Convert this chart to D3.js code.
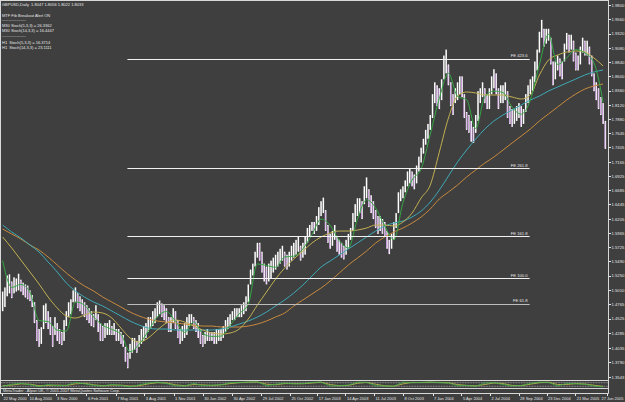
<!DOCTYPE html>
<html>
<head>
<script src="https://d3js.org/d3.v7.min.js"></script>
<style>
  body { margin: 0; background: #3f3f3f; }
  svg { display: block; font-family: "Liberation Sans", Arial, sans-serif; }
  .axis text { fill: #e6e6e6; }
  .axis line { stroke: #e6e6e6; shape-rendering: crispEdges; }
  .info { fill: #e6e6e6; font-size: 4px; }
  .fib text { fill: #e6e6e6; font-size: 4.2px; }
</style>
</head>
<body>
<script>
var w = 625, h = 402;
var plotRight = 608.5, plotBottom = 380.5;

// weekly bars, first week starts 22 May 2000
var firstWeek = new Date(2000, 4, 22);
var barLow = [
 1.4650,1.4720,1.4900,1.4950,1.4870,1.4950,1.4980,1.5000,1.4980,1.4920,
 1.4880,1.4850,1.4820,1.4720,1.4450,1.4150,1.4050,1.4100,1.4350,1.4450,
 1.4350,1.4250,1.4050,1.4250,1.4150,1.4100,1.4080,1.4150,1.4400,1.4550,
 1.4600,1.4800,1.4800,1.4700,1.4650,1.4600,1.4550,1.4500,1.4450,1.4400,
 1.4380,1.4500,1.4300,1.4150,1.4150,1.4200,1.4250,1.4250,1.4250,1.4250,
 1.4150,1.4150,1.4100,1.4050,1.3800,1.3690,1.3850,1.3950,1.4000,1.3950,
 1.4050,1.4100,1.4150,1.4200,1.4300,1.4350,1.4400,1.4450,1.4550,1.4600,
 1.4550,1.4500,1.4450,1.4300,1.4300,1.4450,1.4350,1.4200,1.4100,1.4150,
 1.4200,1.4250,1.4400,1.4450,1.4350,1.4300,1.4200,1.4100,1.4050,1.4100,
 1.4150,1.4150,1.4150,1.4100,1.4100,1.4150,1.4150,1.4200,1.4300,1.4350,
 1.4400,1.4500,1.4500,1.4550,1.4550,1.4550,1.4600,1.4650,1.4800,1.5100,
 1.5250,1.5400,1.5550,1.5500,1.5300,1.5150,1.5100,1.5150,1.5200,1.5300,
 1.5350,1.5400,1.5450,1.5500,1.5400,1.5350,1.5400,1.5500,1.5550,1.5600,
 1.5650,1.5500,1.5550,1.5600,1.5800,1.5900,1.6000,1.5950,1.6000,1.6100,
 1.6250,1.6300,1.6000,1.5800,1.5700,1.5750,1.5850,1.5650,1.5600,1.5550,
 1.5520,1.5600,1.5700,1.5850,1.6000,1.6150,1.6250,1.6300,1.6200,1.6450,
 1.6550,1.6400,1.6300,1.6200,1.6050,1.5950,1.6000,1.5950,1.5900,1.5700,
 1.5610,1.5700,1.5850,1.6050,1.6300,1.6500,1.6550,1.6650,1.6750,1.6800,
 1.6750,1.6700,1.6800,1.7000,1.7150,1.7300,1.7450,1.7550,1.7700,1.7900,
 1.8150,1.8100,1.8050,1.8200,1.8550,1.8650,1.8450,1.8100,1.7950,1.8150,
 1.8200,1.8300,1.8250,1.7900,1.7700,1.7650,1.7500,1.7480,1.7650,1.7850,
 1.8150,1.8250,1.8150,1.8050,1.8050,1.8300,1.8400,1.8300,1.8050,1.8150,
 1.8150,1.8200,1.7900,1.7800,1.7750,1.7800,1.7850,1.7900,1.7750,1.7800,
 1.8000,1.8150,1.8300,1.8350,1.8500,1.8700,1.9000,1.9250,1.9100,1.9150,
 1.9200,1.8800,1.8450,1.8550,1.8700,1.8600,1.8550,1.8850,1.9050,1.9000,
 1.9050,1.8850,1.8700,1.8700,1.8800,1.9000,1.8950,1.8950,1.8800,1.8600,
 1.8350,1.8200,1.8050,1.7950,1.7800,1.7380
];
var barHigh = [
 1.4980,1.5050,1.5250,1.5270,1.5150,1.5220,1.5200,1.5280,1.5180,1.5130,
 1.5100,1.5080,1.5000,1.4920,1.4800,1.4500,1.4350,1.4380,1.4750,1.4780,
 1.4650,1.4550,1.4400,1.4550,1.4450,1.4350,1.4300,1.4500,1.4650,1.4800,
 1.4850,1.5000,1.5050,1.4950,1.4900,1.4850,1.4800,1.4750,1.4700,1.4650,
 1.4600,1.4750,1.4600,1.4450,1.4400,1.4450,1.4450,1.4500,1.4400,1.4450,
 1.4350,1.4350,1.4300,1.4250,1.4050,1.3950,1.4100,1.4200,1.4200,1.4150,
 1.4250,1.4350,1.4400,1.4450,1.4550,1.4550,1.4650,1.4700,1.4800,1.4830,
 1.4780,1.4750,1.4700,1.4550,1.4550,1.4700,1.4650,1.4500,1.4350,1.4400,
 1.4450,1.4550,1.4600,1.4600,1.4550,1.4500,1.4450,1.4350,1.4250,1.4300,
 1.4350,1.4300,1.4300,1.4300,1.4350,1.4350,1.4350,1.4400,1.4500,1.4550,
 1.4600,1.4650,1.4700,1.4700,1.4700,1.4750,1.4800,1.4900,1.5100,1.5350,
 1.5450,1.5650,1.5800,1.5800,1.5650,1.5450,1.5400,1.5450,1.5500,1.5550,
 1.5600,1.5650,1.5700,1.5750,1.5650,1.5600,1.5650,1.5750,1.5800,1.5850,
 1.5900,1.5750,1.5800,1.5900,1.6050,1.6100,1.6150,1.6150,1.6250,1.6400,
 1.6500,1.6560,1.6350,1.6100,1.5950,1.6000,1.6100,1.5900,1.5850,1.5800,
 1.5750,1.5850,1.5950,1.6050,1.6300,1.6450,1.6550,1.6550,1.6500,1.6750,
 1.6900,1.6700,1.6600,1.6500,1.6350,1.6250,1.6250,1.6200,1.6150,1.6000,
 1.5850,1.5950,1.6150,1.6300,1.6650,1.6700,1.6750,1.6850,1.7000,1.7050,
 1.7000,1.6950,1.7100,1.7250,1.7400,1.7550,1.7700,1.7800,1.7950,1.8300,
 1.8500,1.8450,1.8400,1.8550,1.8950,1.9050,1.8800,1.8500,1.8300,1.8400,
 1.8500,1.8600,1.8600,1.8300,1.8000,1.7950,1.7850,1.7750,1.7950,1.8350,
 1.8400,1.8500,1.8400,1.8300,1.8400,1.8600,1.8720,1.8650,1.8400,1.8450,
 1.8450,1.8500,1.8350,1.8100,1.8050,1.8050,1.8100,1.8150,1.8100,1.8050,
 1.8300,1.8450,1.8550,1.8600,1.8850,1.9050,1.9350,1.9550,1.9400,1.9400,
 1.9400,1.9250,1.8850,1.8850,1.8950,1.8900,1.8850,1.9150,1.9330,1.9300,
 1.9300,1.9200,1.9000,1.8950,1.9100,1.9250,1.9200,1.9200,1.9100,1.8950,
 1.8650,1.8500,1.8400,1.8250,1.8150,1.7850
];

// moving averages, one value every 4 weeks
var maGreen = [
 1.5500,1.5050,1.5100,1.4973,1.4493,1.4476,1.4331,1.4316,1.4806,1.4750,
 1.4554,1.4413,1.4344,1.4263,1.3968,1.4094,1.4313,1.4556,1.4645,1.4481,
 1.4294,1.4469,1.4275,1.4225,1.4231,1.4413,1.4606,1.4769,1.5444,1.5419,
 1.5388,1.5563,1.5575,1.5700,1.5938,1.6200,1.6095,1.5838,1.5715,1.6200,
 1.6525,1.6388,1.6081,1.5851,1.6475,1.6856,1.7044,1.7625,1.8231,1.8650,
 1.8263,1.8206,1.7723,1.8256,1.8353,1.8325,1.8081,1.7963,1.8200,1.8800,
 1.9306,1.8800,1.8910,1.9050,1.8994,1.8825,1.8163
];
var maKhaki = [
 1.5898,1.5712,1.5511,1.5309,1.5107,1.4888,1.4703,1.4569,1.4535,1.4585,
 1.4636,1.4619,1.4535,1.4367,1.4199,1.4131,1.4199,1.4333,1.4451,1.4501,
 1.4468,1.4400,1.4333,1.4283,1.4266,1.4283,1.4350,1.4518,1.4754,1.4972,
 1.5191,1.5376,1.5527,1.5662,1.5797,1.5898,1.5965,1.5998,1.5998,1.6015,
 1.6049,1.6099,1.6099,1.6083,1.6150,1.6301,1.6554,1.6772,1.7327,1.7899,
 1.8269,1.8337,1.8320,1.8286,1.8286,1.8286,1.8252,1.8219,1.8286,1.8623,
 1.8875,1.8959,1.9009,1.9026,1.9009,1.8908,1.8774
];
var maTeal = [
 1.6099,1.5982,1.5881,1.5763,1.5645,1.5477,1.5309,1.5124,1.4989,1.4888,
 1.4804,1.4737,1.4653,1.4569,1.4485,1.4417,1.4367,1.4350,1.4350,1.4333,
 1.4333,1.4333,1.4333,1.4333,1.4350,1.4384,1.4434,1.4485,1.4552,1.4636,
 1.4737,1.4838,1.4956,1.5090,1.5242,1.5393,1.5494,1.5595,1.5696,1.5797,
 1.5898,1.5998,1.6083,1.6133,1.6167,1.6234,1.6335,1.6486,1.6688,1.6924,
 1.7159,1.7361,1.7546,1.7714,1.7849,1.7950,1.8034,1.8118,1.8202,1.8269,
 1.8353,1.8421,1.8488,1.8555,1.8623,1.8673,1.8707
];
var maOrange = [
 1.6032,1.5948,1.5864,1.5763,1.5679,1.5561,1.5427,1.5292,1.5174,1.5073,
 1.4989,1.4888,1.4804,1.4720,1.4636,1.4569,1.4518,1.4485,1.4468,1.4451,
 1.4434,1.4417,1.4400,1.4400,1.4384,1.4384,1.4384,1.4400,1.4434,1.4485,
 1.4552,1.4619,1.4737,1.4838,1.4939,1.5040,1.5157,1.5292,1.5427,1.5544,
 1.5662,1.5797,1.5898,1.5982,1.6049,1.6133,1.6234,1.6369,1.6537,1.6654,
 1.6772,1.6907,1.7025,1.7142,1.7243,1.7361,1.7479,1.7596,1.7714,1.7849,
 1.7967,1.8084,1.8202,1.8303,1.8387,1.8438,1.8471
];

// lower oscillator, one value every 4 weeks
var stochMain = [20,55,70,45,15,50,30,35,85,60,35,25,50,35,10,45,75,90,65,30,
 25,70,30,40,45,80,85,90,95,30,55,75,60,65,85,90,25,30,40,90,
 85,30,25,20,90,80,85,90,80,75,30,35,20,75,80,50,25,35,70,90,
 85,25,70,60,55,25,10];
var stochSignal = [30,40,60,55,30,35,40,35,60,70,45,30,40,40,25,30,60,80,75,45,
 30,50,45,35,45,65,80,88,92,55,45,65,65,62,75,88,50,30,35,70,
 85,55,28,22,60,85,82,88,85,78,50,35,28,50,75,65,35,30,55,80,
 88,50,50,65,58,38,18];

var priceTicks = [1.9800,1.9560,1.9320,1.9080,1.8840,1.8600,1.8360,1.8120,1.7880,
 1.7645,1.7405,1.7165,1.6925,1.6685,1.6445,1.6205,1.5965,1.5725,1.5490,1.5250,
 1.5010,1.4765,1.4525,1.4285,1.4035,1.3790,1.3543];
var dateTicks = ["2000-05-22","2000-08-10","2000-11-03","2001-02-06","2001-05-07",
 "2001-08-03","2001-11-01","2002-01-30","2002-04-30","2002-07-29","2002-10-25",
 "2003-01-17","2003-04-14","2003-07-11","2003-10-08","2004-01-07","2004-04-05",
 "2004-07-02","2004-09-28","2004-12-23","2005-03-21","2005-06-27"];

var fibNames = ["FE 61.8","FE 100.0","FE 161.8","FE 261.8","FE 423.6"];
var fibPrices = [1.4773,1.5208,1.5913,1.7055,1.8900];
var fibFrom = "2001-06-12", fibTo = "2004-11-01";

var infoLines = [
 "GBPUSD,Daily  1.8047 1.8056 1.8022 1.8033",
 "MTF Fib Breakout Alert ON",
 "------------------",
 "M30 Stoch(5,3,3) = 26.3362",
 "M30 Stoch(14,3,3) = 16.4447",
 "------------------",
 "H1  Stoch(5,3,3) = 16.3714",
 "H1  Stoch(14,3,3) = 23.1111"
];
var infoY = [5.5, 16.5, 21, 26.5, 32, 37, 43.5, 49];

var parseDate = d3.timeParse("%Y-%m-%d");

var xScale = d3.scaleTime()
    .domain([new Date(2000, 4, 22), new Date(2005, 5, 27)])
    .range([2, 607]);
var yScale = d3.scaleLinear()
    .domain([1.3543, 1.9800])
    .range([377, 5]);
var oscScale = d3.scaleLinear().domain([0, 100]).range([387.5, 381.5]);

var svg = d3.select("body").append("svg")
    .attr("width", w).attr("height", h);

svg.append("rect").attr("width", w).attr("height", h).attr("fill", "#3f3f3f");

svg.append("clipPath").attr("id", "plotclip")
  .append("rect").attr("x", 1).attr("y", 1).attr("width", plotRight - 1).attr("height", plotBottom - 1);

var plot = svg.append("g").attr("clip-path", "url(#plotclip)");

// bars
var bars = barLow.map(function(lo, i) {
    var mid = (lo + barHigh[i]) / 2;
    var prevMid = i > 0 ? (barLow[i-1] + barHigh[i-1]) / 2 : mid;
    return { date: d3.timeDay.offset(firstWeek, 7 * i + 2), low: lo, high: barHigh[i], down: mid < prevMid };
});
var barG = plot.selectAll("g.bar").data(bars).enter().append("g").attr("class", "bar");
barG.append("rect")
    .attr("x", function(d) { return xScale(d.date) - 0.75; })
    .attr("width", 1.5)
    .attr("y", function(d) { return yScale(d.high); })
    .attr("height", function(d) { return yScale(d.low) - yScale(d.high); })
    .attr("fill", "#ffffff");
// down weeks get a violet stripe like the bearish daily bars
barG.filter(function(d) { return d.down; }).append("rect")
    .attr("x", function(d) { return xScale(d.date) - 0.75; })
    .attr("width", 0.7)
    .attr("y", function(d) { return yScale(d.high) + 1; })
    .attr("height", function(d) { return Math.max(0, yScale(d.low) - yScale(d.high) - 2); })
    .attr("fill", "#c487dd");

// moving averages
function maPoints(vals) {
    return vals.map(function(v, k) { return { date: d3.timeDay.offset(firstWeek, 28 * k + 2), v: v }; });
}
var maLine = d3.line()
    .x(function(d) { return xScale(d.date); })
    .y(function(d) { return yScale(d.v); })
    .curve(d3.curveMonotoneX);

[[maOrange, "#c98a3e"], [maTeal, "#3fa9b6"], [maKhaki, "#c2b052"], [maGreen, "#35a845"]].forEach(function(m) {
    plot.append("path")
        .attr("d", maLine(maPoints(m[0])))
        .attr("fill", "none")
        .attr("stroke", m[1])
        .attr("stroke-width", 1);
});

// fibo expansion levels
var fx1 = xScale(parseDate(fibFrom)), fx2 = xScale(parseDate(fibTo));
var fib = plot.append("g").attr("class", "fib");
fibPrices.forEach(function(p, i) {
    fib.append("line")
        .attr("x1", fx1).attr("x2", fx2)
        .attr("y1", Math.round(yScale(p)) + 0.5).attr("y2", Math.round(yScale(p)) + 0.5)
        .attr("stroke", i === 0 ? "#bdbdbd" : "#f2f2f2")
        .attr("stroke-width", 1.1);
    fib.append("text")
        .attr("x", fx2 - 2).attr("y", yScale(p) - 1.5)
        .attr("text-anchor", "end")
        .text(fibNames[i]);
});

// info text
svg.selectAll("text.info").data(infoLines).enter().append("text")
    .attr("class", "info")
    .attr("x", 2)
    .attr("y", function(d, i) { return infoY[i]; })
    .attr("xml:space", "preserve")
    .text(function(d) { return d; });

// frames
var frame = "#d8d8d8";
svg.append("rect").attr("x", 0.5).attr("y", 0.5).attr("width", plotRight - 0.5).attr("height", plotBottom - 0.5)
    .attr("fill", "none").attr("stroke", frame).attr("stroke-width", 1);
svg.append("line").attr("x1", 0).attr("x2", plotRight).attr("y1", 388.5).attr("y2", 388.5).attr("stroke", frame);
svg.append("line").attr("x1", 0).attr("x2", plotRight).attr("y1", 393.5).attr("y2", 393.5).attr("stroke", frame);
svg.append("line").attr("x1", plotRight).attr("x2", plotRight).attr("y1", 0).attr("y2", 393.5).attr("stroke", frame);
svg.append("line").attr("x1", 0.5).attr("x2", 0.5).attr("y1", 380).attr("y2", 393.5).attr("stroke", frame);

// oscillator window
[20, 80].forEach(function(lv) {
    svg.append("line").attr("x1", 1).attr("x2", plotRight)
        .attr("y1", oscScale(lv)).attr("y2", oscScale(lv))
        .attr("stroke", "#e0e0e0").attr("stroke-width", 0.6).attr("stroke-dasharray", "0.8,0.8");
});
var oscLine = d3.line()
    .x(function(d) { return xScale(d.date); })
    .y(function(d) { return oscScale(d.v); });
[[stochSignal, "#c8c04a"], [stochMain, "#3cb04a"]].forEach(function(m) {
    svg.append("path").attr("d", oscLine(maPoints(m[0])))
        .attr("fill", "none").attr("stroke", m[1]).attr("stroke-width", 0.8);
});

svg.append("text").attr("class", "info")
    .attr("x", 3).attr("y", 392.3)
    .text("MetaTrader - Alpari UK, \u00a9 2001-2007 MetaQuotes Software Corp.");

// price axis
var yAxis = svg.append("g").attr("class", "axis")
    .attr("transform", "translate(" + plotRight + ",0)")
    .call(d3.axisRight(yScale).tickValues(priceTicks).tickSize(2).tickPadding(1).tickFormat(d3.format(".4f")));
yAxis.select(".domain").remove();
yAxis.attr("font-size", 4.2).attr("font-family", "Liberation Sans, Arial, sans-serif");

// time axis
var xAxis = svg.append("g").attr("class", "axis")
    .attr("transform", "translate(0,393.5)")
    .call(d3.axisBottom(xScale).tickValues(dateTicks.map(parseDate)).tickSize(2).tickPadding(1.5)
        .tickFormat(d3.timeFormat("%-d %b %Y")));
xAxis.select(".domain").remove();
xAxis.attr("font-size", 4).attr("font-family", "Liberation Sans, Arial, sans-serif");
xAxis.selectAll("text").attr("text-anchor", "start")
    .attr("dx", function(d, i) { return i === dateTicks.length - 1 ? -6 : 1; });
</script>
</body>
</html>
